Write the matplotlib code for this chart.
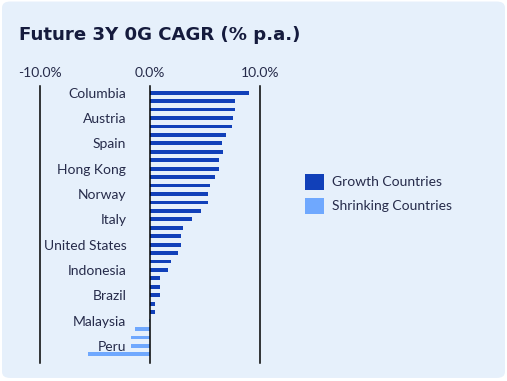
import numpy as np
import matplotlib.pyplot as plt
from matplotlib.patches import FancyBboxPatch, Patch

# values, top to bottom (% p.a.)
labels = ['Columbia', '', '', 'Austria', '', '', 'Spain', '', '', 'Hong Kong', '', '',
          'Norway', '', '', 'Italy', '', '', 'United States', '', '', 'Indonesia', '', '',
          'Brazil', '', '', 'Malaysia', '', '', 'Peru', '']
cagr = [9.0, 7.7, 7.7, 7.5, 7.4, 6.9, 6.5, 6.6, 6.3, 6.3, 5.9, 5.4,
        5.3, 5.3, 4.6, 3.8, 3.0, 2.8, 2.8, 2.5, 1.9, 1.6, 0.9, 0.9,
        0.9, 0.5, 0.5, -0.1, -1.4, -1.7, -1.7, -5.6]
ticks = [-10, 0, 10]
tick_labels = ['-10.0%', '0.0%', '10.0%']

dark = '#1140B9'
light = '#6FA8FE'
bg = '#E6F0FB'
txt = '#262B4A'

plt.rcParams['font.family'] = ['Lato', 'DejaVu Sans']

fig = plt.figure(figsize=(5.07, 3.81), dpi=100)
fig.patch.set_facecolor('white')
fig.patches.append(FancyBboxPatch((0.004, 0.008), 0.992, 0.988,
                                  boxstyle='round,pad=0,rounding_size=0.016',
                                  transform=fig.transFigure, facecolor=bg,
                                  edgecolor='none', zorder=-5))

ax = fig.add_axes([0.0783, 0.0472, 0.435, 0.727])
ax.set_facecolor('none')

y = np.arange(len(cagr))
colors = [dark if v >= 0 else light for v in cagr]
ax.barh(y, cagr, height=0.45, color=colors, zorder=2)

ax.set_xlim(-10, 10)
ax.set_ylim(len(cagr) - 1 + 1.03, -0.79)
for t in ticks:
    ax.axvline(t, color='black', lw=1.1, zorder=3, clip_on=False)

for s in ax.spines.values():
    s.set_visible(False)
ax.spines['left'].set_position(('data', 0))

ax.xaxis.tick_top()
ax.set_xticks(ticks)
ax.set_xticklabels(tick_labels)
ax.tick_params(axis='x', length=0, pad=5, labelsize=10, labelcolor=txt)
ax.set_yticks(y)
ax.set_yticklabels(labels)
ax.tick_params(axis='y', length=0, pad=17, labelsize=10, labelcolor=txt)

fig.text(19 / 507, 1 - 35 / 381, 'Future 3Y 0G CAGR (% p.a.)', fontsize=13.1,
         fontweight='bold', color='#151B3D', va='center', ha='left',
         family=['DejaVu Sans'])

handles = [Patch(facecolor=dark, label='Growth Countries'),
           Patch(facecolor=light, label='Shrinking Countries')]
fig.legend(handles=handles, loc='upper left', bbox_to_anchor=(305 / 507, 1 - 174 / 381),
           frameon=False, fontsize=10, labelcolor=txt, handlelength=1.35,
           handleheight=1.35, handletextpad=0.6, labelspacing=0.6,
           borderpad=0, borderaxespad=0)

fig.savefig('out.png', dpi=100, facecolor='white')
